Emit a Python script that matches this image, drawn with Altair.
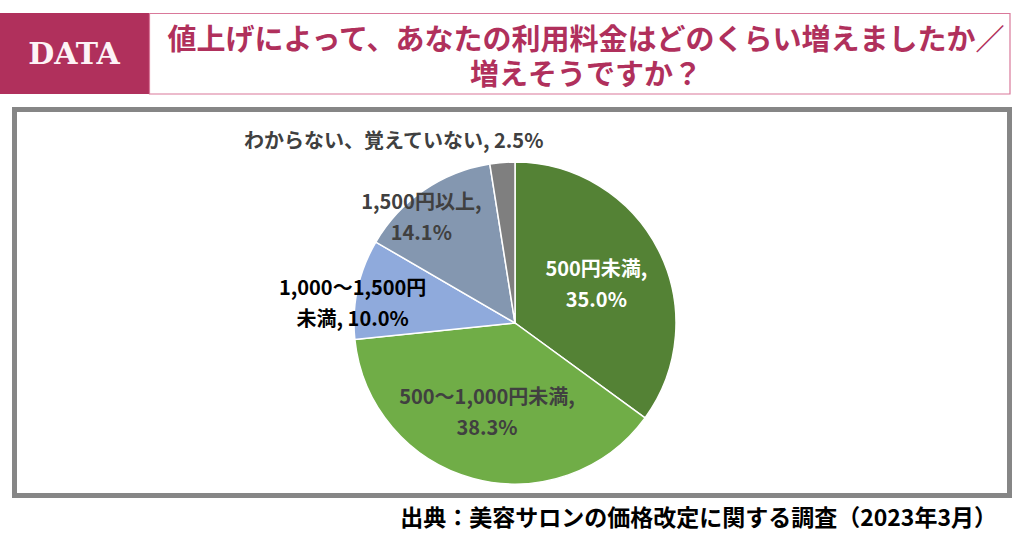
import altair as alt
import pandas as pd

# ---- data ----
categories = ["500円未満", "500～1,000円未満", "1,000～1,500円未満", "1,500円以上", "わからない、覚えていない"]
values = [35.0, 38.3, 10.0, 14.1, 2.5]
label_texts = [
    "500円未満,\n35.0%",
    "500～1,000円未満,\n38.3%",
    "1,000～1,500円\n未満, 10.0%",
    "1,500円以上,\n14.1%",
    "わからない、覚えていない, 2.5%",
]
colors = ["#548235", "#70AD47", "#8FAADC", "#8497B0", "#7F7F7F"]
title_lines = ["値上げによって、あなたの利用料金はどのくらい増えましたか／", "増えそうですか？"]
source_text = "出典：美容サロンの価格改定に関する調査（2023年3月）"
badge_text = "DATA"

df = pd.DataFrame({
    "cat": categories,
    "value": values,
    "label": label_texts,
    "order": list(range(len(categories))),
})

FONT = "Noto Sans CJK JP"
CX, CY, R = 515, 323, 161
MAROON = "#B0305C"

dummy = alt.Data(values=[{}])

# header
badge = alt.Chart(dummy).mark_rect(fill=MAROON).encode(
    x=alt.value(0), x2=alt.value(149), y=alt.value(13), y2=alt.value(94))
title_box = alt.Chart(dummy).mark_rect(fill="white", stroke="#D9789A", strokeWidth=1.2).encode(
    x=alt.value(149.5), x2=alt.value(1010), y=alt.value(13.5), y2=alt.value(94))
badge_txt = alt.Chart(dummy).mark_text(
    text=badge_text, font="DejaVu Serif", fontWeight="bold", fontSize=30,
    color="#FDF3F6", align="center", baseline="middle").encode(
    x=alt.value(74), y=alt.value(55))
title = alt.Chart(dummy).mark_text(
    text="\n".join(title_lines), lineBreak="\n", lineHeight=35,
    font=FONT, fontWeight="bold", fontSize=29,
    color=MAROON, align="center", baseline="middle").encode(
    x=alt.value(586), y=alt.value(41))

# frame
frame = alt.Chart(dummy).mark_rect(fillOpacity=0, stroke="#868686", strokeWidth=5).encode(
    x=alt.value(14.5), x2=alt.value(1009.5), y=alt.value(109.5), y2=alt.value(495.5))

source = alt.Chart(dummy).mark_text(
    text=source_text, font=FONT, fontWeight="bold", fontSize=23,
    color="black", align="right", baseline="middle").encode(
    x=alt.value(997), y=alt.value(519))

# pie
base = alt.Chart(df).encode(
    theta=alt.Theta("value:Q", stack=True),
    order=alt.Order("order:Q"),
)
pie = base.mark_arc(radius=R, stroke="white", strokeWidth=1.5).encode(
    color=alt.Color("cat:N", scale=alt.Scale(domain=categories, range=colors), legend=None),
    x=alt.value(CX), y=alt.value(CY),
)

label_layout = [
    # radius, dx, dy, color
    (89, 2, -13, "white"),
    (92, -4, -14, "#404040"),
    (163, -3, 0, "black"),
    (141, -14, -4, "#404040"),
    (182, -107, 0, "#404040"),
]
label_layers = []
for i, (r, dx, dy, col) in enumerate(label_layout):
    label_layers.append(
        base.mark_text(radius=r, dx=dx, dy=dy, color=col, font=FONT, fontWeight="bold",
                       fontSize=20, lineBreak="\n", lineHeight=31,
                       align="center", baseline="middle").encode(
            text="label:N", x=alt.value(CX), y=alt.value(CY),
            opacity=alt.condition(alt.datum.order == i, alt.value(1), alt.value(0)),
        )
    )

chart = alt.layer(badge, title_box, badge_txt, title, frame, source, pie, *label_layers).properties(
    width=1024, height=538, padding=0, autosize="none"
).configure_view(strokeWidth=0)

chart.save("out.html", embed_options={"renderer": "svg", "actions": False})
